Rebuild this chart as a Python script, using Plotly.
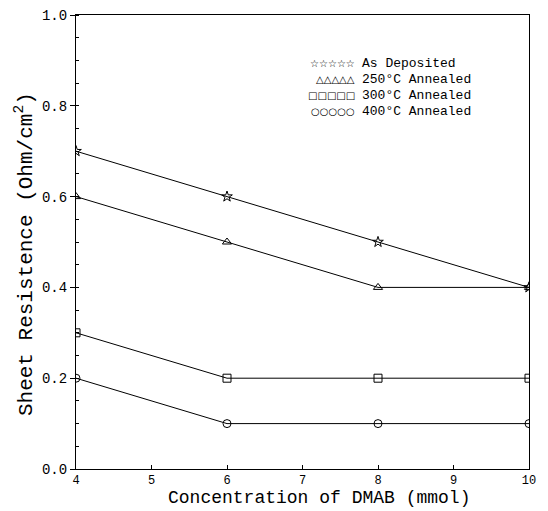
import plotly.graph_objects as go

conc = [4, 6, 8, 10]
as_deposited = [0.7, 0.6, 0.5, 0.4]
annealed_250 = [0.6, 0.5, 0.4, 0.4]
annealed_300 = [0.3, 0.2, 0.2, 0.2]
annealed_400 = [0.2, 0.1, 0.1, 0.1]

series = [
    ("As Deposited", as_deposited, "star-open", "☆☆☆☆☆"),
    ("250°C Annealed", annealed_250, "triangle-up-open", "△△△△△"),
    ("300°C Annealed", annealed_300, "square-open", "□□□□□"),
    ("400°C Annealed", annealed_400, "circle-open", "○○○○○"),
]

x_title = "Concentration of DMAB (mmol)"
y_title = "Sheet Resistence (Ohm/cm<sup>2</sup>)"

FONT = "Liberation Mono, Courier New, monospace"

fig = go.Figure()
for name, vals, sym, _ in series:
    fig.add_trace(go.Scatter(
        x=conc, y=vals, name=name, mode="lines+markers",
        line=dict(color="black", width=1),
        marker=dict(symbol=sym, size=8, color="black", line=dict(width=1, color="black")),
        showlegend=False,
    ))

# manual legend (annotations)
row_y = [0.893, 0.857, 0.822, 0.787]
for (name, _, _, glyphs), yy in zip(series, row_y):
    fig.add_annotation(xref="paper", yref="paper", x=0.620, y=yy, text=glyphs,
                       showarrow=False, xanchor="right", yanchor="middle",
                       font=dict(family="DejaVu Sans", size=10, color="black"))
    fig.add_annotation(xref="paper", yref="paper", x=0.627, y=yy, text=name,
                       showarrow=False, xanchor="left", yanchor="middle",
                       font=dict(family=FONT, size=13, color="black"))

# axis titles
fig.add_annotation(xref="paper", yref="paper", x=0.537, y=-0.0903, text=x_title,
                   showarrow=False, xanchor="center", yanchor="bottom",
                   font=dict(family=FONT, size=18, color="black"))
fig.add_annotation(xref="paper", yref="paper", x=-0.112, y=0.474, text=y_title,
                   showarrow=False, xanchor="center", yanchor="middle", textangle=-90,
                   font=dict(family=FONT, size=21, color="black"))

fig.update_layout(
    width=548, height=511,
    margin=dict(l=76, r=19, t=15, b=42),
    paper_bgcolor="white", plot_bgcolor="white",
    font=dict(family=FONT, color="black"),
)
fig.update_xaxes(
    range=[4, 10], dtick=1, tick0=4, showgrid=False, zeroline=False,
    showline=True, linecolor="black", linewidth=1, mirror=True,
    ticks="inside", ticklen=4, tickcolor="black",
    tickfont=dict(size=12, family=FONT), automargin=False,
)
fig.update_yaxes(
    range=[0, 1.0], dtick=0.2, tick0=0, tickformat=".1f", showgrid=False, zeroline=False,
    showline=True, linecolor="black", linewidth=1, mirror=True,
    ticks="outside", ticklen=5, tickcolor="black",
    minor=dict(dtick=0.05, ticks="inside", ticklen=3, tickcolor="black"),
    tickfont=dict(size=14, family=FONT), automargin=False,
)

fig.write_html("out.html")
